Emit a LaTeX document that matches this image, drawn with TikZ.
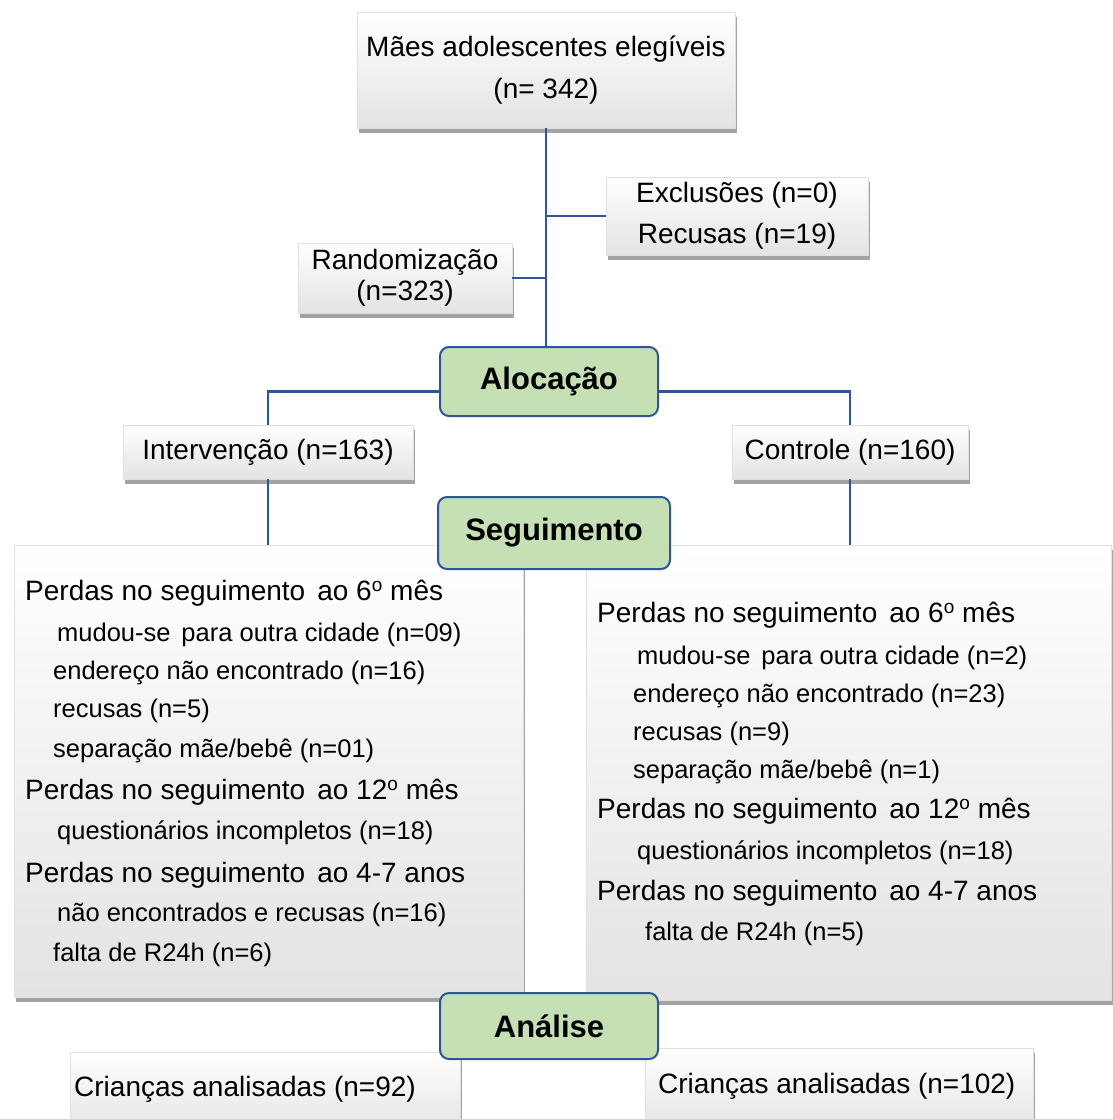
\documentclass[tikz,border=0pt]{standalone}
\usepackage{fontspec}
\setmainfont{Liberation Sans}
\usetikzlibrary{shadows}
\definecolor{lineblue}{HTML}{2F5597}
\definecolor{boxgreen}{HTML}{C5E0B4}
\tikzset{
 graybox/.style={draw=black!12, line width=0.6pt, top color=white, bottom color=black!11,
   drop shadow={shadow xshift=2pt, shadow yshift=-4.5pt, fill=black!65, opacity=0.55},
   inner sep=0pt, align=center},
 greenbox/.style={draw=lineblue, line width=2pt, fill=boxgreen, rounded corners=9pt,
   inner sep=0pt, font=\bfseries\fontsize{31}{36}\selectfont},
 conn/.style={draw=lineblue, line width=2.2pt},
 mainline/.style={anchor=base west, inner sep=0pt, font=\fontsize{28}{34}\selectfont},
 subline/.style={anchor=base west, inner sep=0pt, font=\fontsize{25.5}{30}\selectfont},
}
\newcommand{\ordo}{\raisebox{0.55ex}{\fontsize{19}{19}\selectfont o}}
\newcommand{\xsp}{\hspace{0.15em}}
\begin{document}
\begin{tikzpicture}[x=1pt,y=-1pt]
\path[clip] (0,0) rectangle (1113,1119);
\path[fill=white] (0,0) rectangle (1113,1119);

% top boxes
\node[graybox, minimum width=378pt, minimum height=116pt, font=\fontsize{28}{42}\selectfont]
  (top) at (546,70) {Mães adolescentes elegíveis\\(n= 342)};
\node[graybox, minimum width=262pt, minimum height=78pt, font=\fontsize{28}{41}\selectfont]
  (excl) at (737,216) {Exclusões (n=0)\\Recusas (n=19)};
\node[graybox, minimum width=214pt, minimum height=70pt, font=\fontsize{28}{31}\selectfont]
  (rand) at (405,278) {Randomização\\(n=323)};
\node[greenbox, minimum width=218pt, minimum height=69pt] (aloc) at (549,381.5) {Alocação};
\node[graybox, minimum width=290pt, minimum height=54pt, font=\fontsize{28}{34}\selectfont]
  (int) at (268,452) {Intervenção (n=163)};
\node[graybox, minimum width=236pt, minimum height=54pt, font=\fontsize{28}{34}\selectfont]
  (ctrl) at (850,452) {Controle (n=160)};

% big boxes
\node[graybox, minimum width=509pt, minimum height=452pt] (lbig) at (268.5,771) {};
\node[graybox, minimum width=525pt, minimum height=455pt] (rbig) at (848.5,772.5) {};

\node[greenbox, minimum width=232pt, minimum height=72pt] (seg) at (554,533) {Seguimento};

% left texts
\node[mainline] (l1) at (25,600) {Perdas no seguimento \xsp ao 6\ordo{} mês};
\node[subline] (l2) at (57,641) {mudou-se \xsp para outra cidade (n=09)};
\node[subline] (l3) at (53,679) {endereço não encontrado (n=16)};
\node[subline] (l4) at (53,717) {recusas (n=5)};
\node[subline] (l5) at (53,757) {separação mãe/bebê (n=01)};
\node[mainline] (l6) at (25,799) {Perdas no seguimento \xsp ao 12\ordo{} mês};
\node[subline] (l7) at (57,839) {questionários incompletos (n=18)};
\node[mainline] (l8) at (25,882) {Perdas no seguimento \xsp ao 4-7 anos};
\node[subline] (l9) at (57,921) {não encontrados e recusas (n=16)};
\node[subline] (l10) at (53,961) {falta de R24h (n=6)};

% right texts
\node[mainline] (r1) at (597,622) {Perdas no seguimento \xsp ao 6\ordo{} mês};
\node[subline] (r2) at (637,664) {mudou-se \xsp para outra cidade (n=2)};
\node[subline] (r3) at (633,702) {endereço não encontrado (n=23)};
\node[subline] (r4) at (633,740) {recusas (n=9)};
\node[subline] (r5) at (633,778) {separação mãe/bebê (n=1)};
\node[mainline] (r6) at (597,818) {Perdas no seguimento \xsp ao 12\ordo{} mês};
\node[subline] (r7) at (637,859) {questionários incompletos (n=18)};
\node[mainline] (r8) at (597,900) {Perdas no seguimento \xsp ao 4-7 anos};
\node[subline] (r9) at (645,940) {falta de R24h (n=5)};

% bottom boxes
\node[graybox, minimum width=390pt, minimum height=83pt] (lan) at (265,1093.5) {};
\node[graybox, minimum width=388pt, minimum height=87pt] (ran) at (839,1091.5) {};
\node[mainline] (lant) at (74,1096) {Crianças analisadas (n=92)};
\node[mainline] (rant) at (658,1093) {Crianças analisadas (n=102)};

\node[greenbox, minimum width=218pt, minimum height=66pt] (anal) at (549,1026) {Análise};

% connectors
\draw[conn] (top.south) -- (top.south |- aloc.north);
\draw[conn] (excl.west) -- (excl.west -| top.south);
\draw[conn] (rand.east) -- (rand.east -| top.south);
\draw[conn] ([yshift=-10pt]aloc.west) -| (int.north);
\draw[conn] ([yshift=-10pt]aloc.east) -| (ctrl.north);
\draw[conn] (int.south) -- (int.south |- lbig.north);
\draw[conn] (ctrl.south) -- (ctrl.south |- rbig.north);
\end{tikzpicture}
\end{document}
